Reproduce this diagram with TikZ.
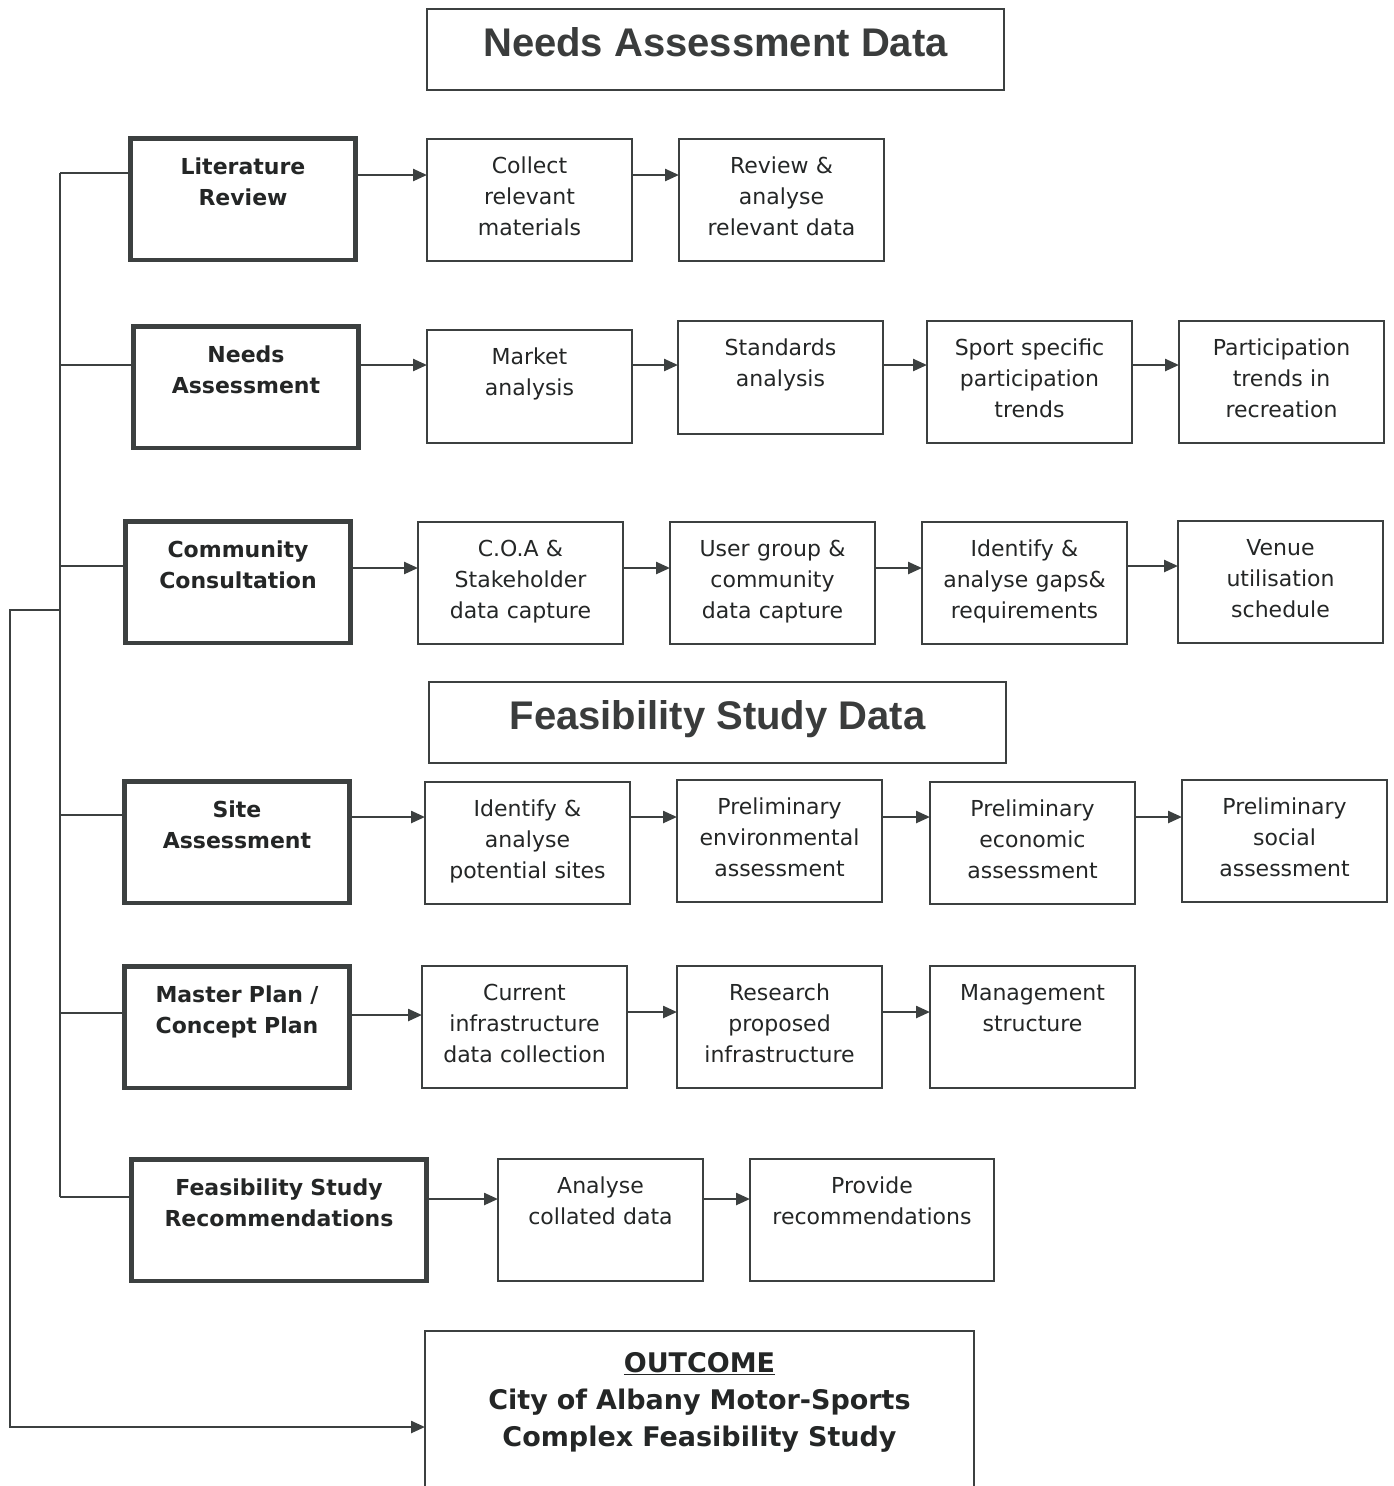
\documentclass[tikz,border=0pt]{standalone}
\usepackage{fontspec}
\setmainfont{DejaVu Sans}
\newfontfamily\headfont{Liberation Sans}
\usetikzlibrary{arrows.meta}
\definecolor{inkgray}{RGB}{60,64,64}
\definecolor{textgray}{RGB}{36,38,38}

\tikzset{
  stage/.style={draw=inkgray, line width=4.5pt, anchor=north west, outer sep=0pt,
    text width=217pt, inner xsep=4pt, inner ysep=0pt, text height=35.5pt,
    text depth=86pt, align=center, text=textgray,
    font=\fontsize{22}{31}\selectfont\bfseries},
  task/.style={draw=inkgray, line width=1.8pt, anchor=north west, outer sep=0pt,
    text width=197pt, inner xsep=4pt, inner ysep=0pt, text height=34pt,
    text depth=88pt, align=center, text=textgray,
    font=\fontsize{22}{31}\selectfont},
  short/.style={text depth=79pt},
  banner/.style={draw=inkgray, line width=1.8pt, anchor=north west, outer sep=0pt,
    minimum width=577pt, inner ysep=0pt, text height=47.5pt, text depth=33.5pt,
    text=textgray!90!white, font=\headfont\fontsize{40}{48}\selectfont\bfseries},
  flow/.style={draw=inkgray, line width=2.4pt, -{Triangle[length=14pt,width=12pt]}},
  link/.style={draw=inkgray, line width=2pt}
}

\begin{document}
\begin{tikzpicture}[x=1pt, y=-1pt]
  \useasboundingbox (0,0) rectangle (1394,1486);
  % section headings
  \node[banner] (needsdata) at (427,9) {Needs Assessment Data};
  \node[banner] (feasdata) at (429,682) {Feasibility Study Data};
  % stages on the left
  \node[stage] (lit)    at (130.5,138.5)  {Literature\\Review};
  \node[stage] (needs)  at (133.5,326.5)  {Needs\\Assessment};
  \node[stage] (comm)   at (125.5,521.5)  {Community\\Consultation};
  \node[stage] (site)   at (124.5,781.5)  {Site\\Assessment};
  \node[stage] (master) at (124.5,966.5)  {Master Plan /\\Concept Plan};
  \node[stage, text width=287pt] (recfs) at (131.5,1159.5) {Feasibility Study\\Recommendations};
  % tasks, row by row
  \node[task] (collect) at (427,139) {Collect\\relevant\\materials};
  \node[task] (review)  at (679,139) {Review \&\\analyse\\relevant data};

  \node[task, short] (market)    at (427,330)  {Market\\analysis};
  \node[task, short] (standards) at (678,321)  {Standards\\analysis};
  \node[task] (sport)  at (927,321)  {Sport specific\\participation\\trends};
  \node[task] (partic) at (1179,321) {Participation\\trends in\\recreation};

  \node[task] (coa)     at (418,522)  {C.O.A \&\\Stakeholder\\data capture};
  \node[task] (usergrp) at (670,522)  {User group \&\\community\\data capture};
  \node[task] (gaps)    at (922,522)  {Identify \&\\analyse gaps\&\\requirements};
  \node[task] (venue)   at (1178,521) {Venue\\utilisation\\schedule};

  \node[task] (ident)  at (425,782)  {Identify \&\\analyse\\potential sites};
  \node[task] (env)    at (677,780)  {Preliminary\\environmental\\assessment};
  \node[task] (econ)   at (930,782)  {Preliminary\\economic\\assessment};
  \node[task] (social) at (1182,780) {Preliminary\\social\\assessment};

  \node[task] (current)  at (422,966) {Current\\infrastructure\\data collection};
  \node[task] (research) at (677,966) {Research\\proposed\\infrastructure};
  \node[task] (mgmt)     at (930,966) {Management\\structure};

  \node[task] (analyse) at (498,1159) {Analyse\\collated data};
  \node[task, text width=236pt] (provide) at (750,1159) {Provide\\recommendations};
  % outcome, runs off the page
  \node[task, text width=541pt, text height=41pt, text depth=200pt,
        font=\fontsize{27}{37}\selectfont\bfseries] (outcome) at (425,1331)
        {\underline{OUTCOME}\\City of Albany Motor-Sports\\Complex Feasibility Study};
  % arrows along each row
  \foreach \a/\b/\y in {lit/collect/175, collect/review/175,
      needs/market/365, market/standards/365, standards/sport/365, sport/partic/365,
      comm/coa/568, coa/usergrp/568, usergrp/gaps/568, gaps/venue/566,
      site/ident/817, ident/env/817, env/econ/817, econ/social/817,
      master/current/1015, current/research/1012, research/mgmt/1012,
      recfs/analyse/1199, analyse/provide/1199}
    \draw[flow] (\a.east |- 0,\y) -- (\b.west |- 0,\y);
  % bus on the left
  \draw[link] (60,173) -- (60,1197);
  \foreach \n/\y in {lit/173, needs/365, comm/566, site/815, master/1013, recfs/1197}
    \draw[link] (60,\y) -- (\n.west |- 0,\y);
  \draw[flow] (60,610) -- (10,610) -- (10,1427) -- (outcome.west |- 0,1427);
\end{tikzpicture}
\end{document}
